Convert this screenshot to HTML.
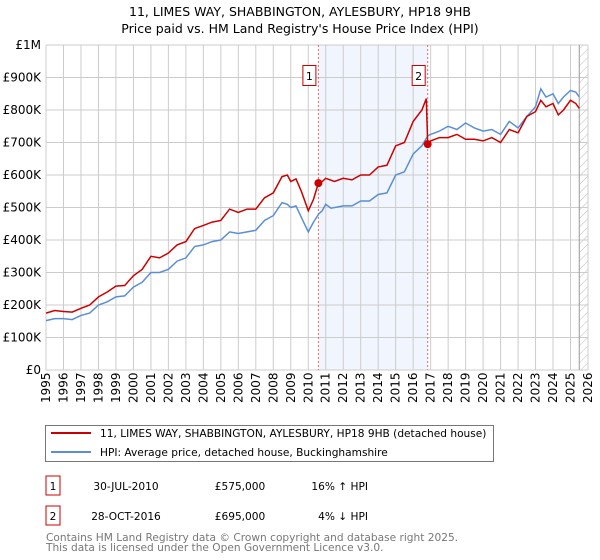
<!DOCTYPE html>
<html><head><meta charset="utf-8"><style>
body{margin:0;background:#fff;font-family:"Liberation Sans","DejaVu Sans",sans-serif;}
svg{display:block}
</style></head><body>
<svg width="600" height="560" xmlns="http://www.w3.org/2000/svg" font-family="DejaVu Sans, Liberation Sans, sans-serif">
<defs><pattern id="hatch" width="6" height="6" patternUnits="userSpaceOnUse" patternTransform="rotate(45)"><line x1="0" y1="0" x2="0" y2="6" stroke="#bbb" stroke-width="1"/></pattern></defs>
<text x="300" y="16" text-anchor="middle" font-size="12.5" fill="#000">11, LIMES WAY, SHABBINGTON, AYLESBURY, HP18 9HB</text>
<text x="300" y="33" text-anchor="middle" font-size="12.5" fill="#000">Price paid vs. HM Land Registry's House Price Index (HPI)</text>
<g id="plot"></g>
<g>
<rect x="45.5" y="425.5" width="448" height="36" fill="#fff" stroke="#777"/>
<line x1="51" y1="433" x2="91" y2="433" stroke="#cc0000" stroke-width="2"/>
<text x="100" y="437" font-size="10.6">11, LIMES WAY, SHABBINGTON, AYLESBURY, HP18 9HB (detached house)</text>
<line x1="51" y1="452" x2="91" y2="452" stroke="#5b8fd4" stroke-width="2"/>
<text x="100" y="456" font-size="10.6">HPI: Average price, detached house, Buckinghamshire</text>
</g>
<g font-size="10.6">
<rect x="46" y="476" width="14" height="19" fill="#fff" stroke="#cc0000"/>
<text x="53" y="490" text-anchor="middle">1</text>
<text x="126" y="490" text-anchor="middle">30-JUL-2010</text>
<text x="240" y="490" text-anchor="middle">£575,000</text>
<text x="368" y="490" text-anchor="end">16% ↑ HPI</text>
<rect x="46" y="506" width="14" height="19" fill="#fff" stroke="#cc0000"/>
<text x="53" y="520" text-anchor="middle">2</text>
<text x="126" y="520" text-anchor="middle">28-OCT-2016</text>
<text x="240" y="520" text-anchor="middle">£695,000</text>
<text x="368" y="520" text-anchor="end">4% ↓ HPI</text>
</g>
<text x="46" y="541" font-size="10.6" fill="#777">Contains HM Land Registry data © Crown copyright and database right 2025.</text>
<text x="46" y="551" font-size="10.6" fill="#777">This data is licensed under the Open Government Licence v3.0.</text>
</svg>
<script>
const hpiYears=[1995,1995.5,1996,1996.5,1997,1997.5,1998,1998.5,1999,1999.5,2000,2000.5,2001,2001.5,2002,2002.5,2003,2003.5,2004,2004.5,2005,2005.5,2006,2006.5,2007,2007.5,2008,2008.5,2008.8,2009,2009.3,2009.6,2010,2010.3,2010.6,2010.8,2011,2011.3,2012,2012.5,2013,2013.5,2014,2014.5,2015,2015.5,2016,2016.5,2016.83,2017,2017.5,2018,2018.5,2019,2019.5,2020,2020.5,2021,2021.5,2022,2022.5,2023,2023.3,2023.6,2024,2024.3,2024.6,2025,2025.3,2025.5];
const hpiValues=[152,158,158,155,168,175,200,210,225,228,255,270,300,300,310,335,345,380,385,395,400,425,420,425,430,460,475,515,510,500,505,470,425,455,480,490,510,498,505,505,520,520,540,545,600,610,665,690,720,725,735,750,740,760,745,735,740,725,765,745,780,810,865,840,850,820,840,860,855,840];
const ppYears=[1995,1995.5,1996,1996.5,1997,1997.5,1998,1998.5,1999,1999.5,2000,2000.5,2001,2001.5,2002,2002.5,2003,2003.5,2004,2004.5,2005,2005.5,2006,2006.5,2007,2007.5,2008,2008.5,2008.8,2009,2009.3,2009.6,2010,2010.3,2010.58,2010.8,2011,2011.5,2012,2012.5,2013,2013.5,2014,2014.5,2015,2015.5,2016,2016.5,2016.75,2016.83,2017,2017.5,2018,2018.5,2019,2019.5,2020,2020.5,2021,2021.5,2022,2022.5,2023,2023.3,2023.6,2024,2024.3,2024.6,2025,2025.3,2025.5];
const ppValues=[175,183,180,178,190,200,225,240,258,260,290,310,350,345,360,385,395,435,445,455,460,495,485,495,495,530,545,595,600,580,588,550,490,525,575,580,590,580,590,585,600,600,625,630,690,700,765,800,835,695,705,715,715,725,710,710,705,715,700,740,730,780,795,830,810,820,785,800,830,820,805];
const saleYears=[2010.58,2016.83];
const saleValues=[575,695];
const saleLabels=["1","2"];
const yTicks=[0,100,200,300,400,500,600,700,800,900,1000];
const yTickLabels=["£0","£100K","£200K","£300K","£400K","£500K","£600K","£700K","£800K","£900K","£1M"];
const xTicks=[];for(let y=1995;y<=2026;y++)xTicks.push(y);

const X0=46,X1=588,Y0=370,Y1=45,YR0=1995,YR1=2026,VMAX=1000;
const xs=v=>X0+(v-YR0)/(YR1-YR0)*(X1-X0);
const ys=v=>Y0-v/VMAX*(Y0-Y1);
const NS="http://www.w3.org/2000/svg";
const g=document.getElementById('plot');
function mk(t,a){const e=document.createElementNS(NS,t);for(const k in a)e.setAttribute(k,a[k]);g.appendChild(e);return e;}

let e=mk('rect',{x:xs(saleYears[0]),y:Y1,width:xs(saleYears[1])-xs(saleYears[0]),height:Y0-Y1,fill:'#eef3fc',opacity:0.8});


e=mk('rect',{x:xs(2025.5),y:Y1,width:X1-xs(2025.5),height:Y0-Y1,fill:'url(#hatch)'});


for(let i=0;i<yTicks.length;i++){
 e=mk('line',{x1:X0,x2:X1,y1:ys(yTicks[i]),y2:ys(yTicks[i]),stroke:'#ccc','stroke-width':1});
 
 
 e=mk('text',{x:X0-5,y:ys(yTicks[i])+4,'text-anchor':'end','font-size':12});
 e.textContent=yTickLabels[i];
 
 
}
for(const yr of xTicks){
 e=mk('line',{x1:xs(yr),x2:xs(yr),y1:Y1,y2:Y0,stroke:'#ccc','stroke-width':1});
 
 
 e=mk('text',{x:0,y:0,'font-size':12,transform:`translate(${xs(yr)+4},${Y0+33}) rotate(-90)`});
 e.textContent=String(yr);
 
 
}
e=mk('line',{x1:xs(2025.5),x2:xs(2025.5),y1:Y1,y2:Y0,stroke:'#999','stroke-width':1});


for(let i=0;i<saleYears.length;i++){
 e=mk('line',{x1:xs(saleYears[i]),x2:xs(saleYears[i]),y1:Y1,y2:Y0,stroke:'#e66','stroke-width':1,'stroke-dasharray':'2,2'});
 
 
}
function pts(xa,va){return xa.map((x,i)=>xs(x).toFixed(1)+','+ys(va[i]).toFixed(1)).join(' ');}
e=mk('polyline',{points:pts(hpiYears,hpiValues),fill:'none',stroke:'#5b8fd4','stroke-width':1.5});


e=mk('polyline',{points:pts(ppYears,ppValues),fill:'none',stroke:'#cc0000','stroke-width':1.5});


for(let i=0;i<saleYears.length;i++){
 e=mk('circle',{cx:xs(saleYears[i]),cy:ys(saleValues[i]),r:4,fill:'#cc0000'});
 
 
 const bx=xs(saleYears[i])-15;
 e=mk('rect',{x:bx-0.5,y:65.5,width:13,height:20,fill:'#fff',stroke:'#cc0000'});
 
 
 e=mk('text',{x:bx+6,y:80,'text-anchor':'middle','font-size':11});
 e.textContent=saleLabels[i];
 
 
}
</script>
</body></html>
